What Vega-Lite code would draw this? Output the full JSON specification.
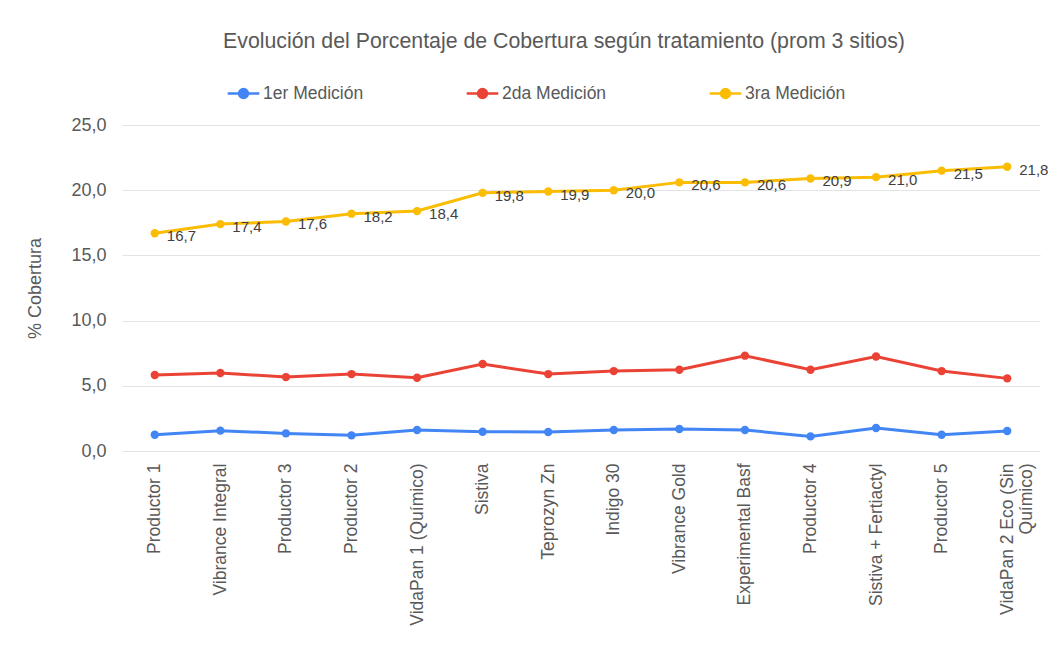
{
  "$schema": "https://vega.github.io/schema/vega-lite/v6.json",
  "width": 918,
  "height": 326,
  "autosize": "none",
  "padding": {"left": 122, "top": 125, "right": 19, "bottom": 207},
  "background": "white",
  "title": {
    "text": "Evolución del Porcentaje de Cobertura según tratamiento (prom 3 sitios)",
    "font": "Liberation Sans",
    "fontSize": 21.3,
    "fontWeight": "normal",
    "color": "#595959",
    "anchor": "middle",
    "frame": "group",
    "dx": -17,
    "offset": 24
  },
  "config": {
    "locale": {"number": {"decimal": ",", "thousands": ".", "grouping": [3], "currency": ["$", ""]}},
    "view": {"stroke": null}
  },
  "data": {
    "values": [
      {"tratamiento": "Productor 1", "medicion": "1er Medición", "valor": 1.25},
      {"tratamiento": "Vibrance Integral", "medicion": "1er Medición", "valor": 1.56},
      {"tratamiento": "Productor 3", "medicion": "1er Medición", "valor": 1.35},
      {"tratamiento": "Productor 2", "medicion": "1er Medición", "valor": 1.2},
      {"tratamiento": "VidaPan 1 (Químico)", "medicion": "1er Medición", "valor": 1.61},
      {"tratamiento": "Sistiva", "medicion": "1er Medición", "valor": 1.48},
      {"tratamiento": "Teprozyn Zn", "medicion": "1er Medición", "valor": 1.46},
      {"tratamiento": "Indigo 30", "medicion": "1er Medición", "valor": 1.61},
      {"tratamiento": "Vibrance Gold", "medicion": "1er Medición", "valor": 1.69},
      {"tratamiento": "Experimental Basf", "medicion": "1er Medición", "valor": 1.61},
      {"tratamiento": "Productor 4", "medicion": "1er Medición", "valor": 1.12},
      {"tratamiento": "Sistiva + Fertiactyl", "medicion": "1er Medición", "valor": 1.76},
      {"tratamiento": "Productor 5", "medicion": "1er Medición", "valor": 1.25},
      {"tratamiento": "VidaPan 2 Eco (Sin Químico)", "medicion": "1er Medición", "valor": 1.53},
      {"tratamiento": "Productor 1", "medicion": "2da Medición", "valor": 5.83},
      {"tratamiento": "Vibrance Integral", "medicion": "2da Medición", "valor": 5.98},
      {"tratamiento": "Productor 3", "medicion": "2da Medición", "valor": 5.67},
      {"tratamiento": "Productor 2", "medicion": "2da Medición", "valor": 5.9},
      {"tratamiento": "VidaPan 1 (Químico)", "medicion": "2da Medición", "valor": 5.62},
      {"tratamiento": "Sistiva", "medicion": "2da Medición", "valor": 6.67},
      {"tratamiento": "Teprozyn Zn", "medicion": "2da Medición", "valor": 5.9},
      {"tratamiento": "Indigo 30", "medicion": "2da Medición", "valor": 6.13},
      {"tratamiento": "Vibrance Gold", "medicion": "2da Medición", "valor": 6.23},
      {"tratamiento": "Experimental Basf", "medicion": "2da Medición", "valor": 7.31},
      {"tratamiento": "Productor 4", "medicion": "2da Medición", "valor": 6.23},
      {"tratamiento": "Sistiva + Fertiactyl", "medicion": "2da Medición", "valor": 7.25},
      {"tratamiento": "Productor 5", "medicion": "2da Medición", "valor": 6.13},
      {"tratamiento": "VidaPan 2 Eco (Sin Químico)", "medicion": "2da Medición", "valor": 5.57},
      {"tratamiento": "Productor 1", "medicion": "3ra Medición", "valor": 16.7},
      {"tratamiento": "Vibrance Integral", "medicion": "3ra Medición", "valor": 17.4},
      {"tratamiento": "Productor 3", "medicion": "3ra Medición", "valor": 17.6},
      {"tratamiento": "Productor 2", "medicion": "3ra Medición", "valor": 18.2},
      {"tratamiento": "VidaPan 1 (Químico)", "medicion": "3ra Medición", "valor": 18.4},
      {"tratamiento": "Sistiva", "medicion": "3ra Medición", "valor": 19.8},
      {"tratamiento": "Teprozyn Zn", "medicion": "3ra Medición", "valor": 19.9},
      {"tratamiento": "Indigo 30", "medicion": "3ra Medición", "valor": 20.0},
      {"tratamiento": "Vibrance Gold", "medicion": "3ra Medición", "valor": 20.6},
      {"tratamiento": "Experimental Basf", "medicion": "3ra Medición", "valor": 20.6},
      {"tratamiento": "Productor 4", "medicion": "3ra Medición", "valor": 20.9},
      {"tratamiento": "Sistiva + Fertiactyl", "medicion": "3ra Medición", "valor": 21.0},
      {"tratamiento": "Productor 5", "medicion": "3ra Medición", "valor": 21.5},
      {"tratamiento": "VidaPan 2 Eco (Sin Químico)", "medicion": "3ra Medición", "valor": 21.8}
    ]
  },
  "encoding": {
    "x": {
      "field": "tratamiento",
      "type": "nominal",
      "sort": null,
      "scale": {"type": "point", "padding": 0.5},
      "axis": {
        "title": null,
        "labelAngle": -90,
        "labelFont": "Liberation Sans",
        "labelFontSize": 17.5,
        "labelColor": "#595959",
        "labelPadding": 12,
        "labelLimit": 240,
        "domain": false,
        "ticks": false,
        "grid": false,
        "labelExpr": "datum.value == 'VidaPan 2 Eco (Sin Químico)' ? ['VidaPan 2 Eco (Sin', 'Químico)'] : datum.value"
      }
    },
    "y": {
      "field": "valor",
      "type": "quantitative",
      "scale": {"domain": [0, 25], "nice": false},
      "axis": {
        "title": "% Cobertura",
        "titleFont": "Liberation Sans",
        "titleFontSize": 18,
        "titleFontWeight": "normal",
        "titleColor": "#595959",
        "titlePadding": 26,
        "values": [0, 5, 10, 15, 20, 25],
        "format": ".1f",
        "labelFont": "Liberation Sans",
        "labelFontSize": 18,
        "labelColor": "#595959",
        "labelPadding": 16,
        "domain": false,
        "ticks": false,
        "gridColor": "#e3e3e3",
        "gridWidth": 1
      }
    }
  },
  "layer": [
    {
      "mark": {"type": "line", "strokeWidth": 3, "point": {"filled": true, "size": 70}},
      "encoding": {
        "color": {
          "field": "medicion",
          "type": "nominal",
          "scale": {"domain": ["1er Medición", "2da Medición", "3ra Medición"], "range": ["#4285F4", "#EA4335", "#FBBC04"]},
          "legend": {
            "orient": "none",
            "legendX": 104,
            "legendY": -49,
            "direction": "horizontal",
            "title": null,
            "symbolType": "M-1,0L1,0M-0.28,0A0.28,0.28 0 1,1 0.28,0A0.28,0.28 0 1,1 -0.28,0Z",
            "symbolSize": 1000,
            "symbolStrokeWidth": 2.5,
            "labelFont": "Liberation Sans",
            "labelFontSize": 17.5,
            "labelColor": "#595959",
            "labelOffset": 2,
            "columnPadding": 97,
            "encode": {"symbols": {"update": {"fill": {"scale": "color", "field": "value"}, "stroke": {"scale": "color", "field": "value"}, "opacity": {"value": 1}}}}
          }
        }
      }
    },
    {
      "transform": [{"filter": "datum.medicion == '3ra Medición'"}],
      "mark": {"type": "text", "align": "left", "baseline": "middle", "dx": 12, "dy": 3, "font": "Liberation Sans", "fontSize": 15, "color": "#404040"},
      "encoding": {
        "text": {"field": "valor", "type": "quantitative", "format": ".1f"}
      }
    }
  ]
}
